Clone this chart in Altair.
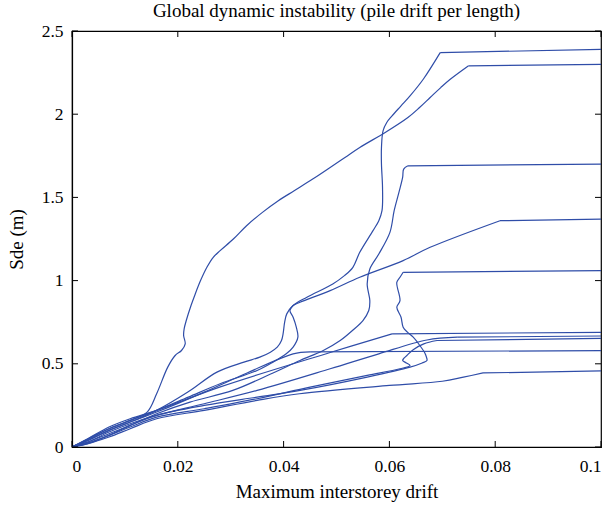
import altair as alt
import pandas as pd

# ---- data ----
drift_A = [0, 0.003, 0.007, 0.011, 0.0142, 0.016, 0.0181, 0.0195, 0.0207, 0.0214, 0.0211, 0.0212, 0.0216, 0.0225, 0.0233, 0.0243, 0.0255, 0.0267, 0.028, 0.0305, 0.033, 0.036, 0.039, 0.042, 0.0455, 0.0488, 0.0516, 0.0544, 0.0592, 0.0635, 0.0657, 0.0677, 0.0697, 0.0715, 0.0749, 0.1]
sde_A = [0, 0.05, 0.11, 0.16, 0.21, 0.32, 0.48, 0.55, 0.58, 0.62, 0.67, 0.71, 0.76, 0.85, 0.92, 1.00, 1.08, 1.14, 1.18, 1.25, 1.33, 1.41, 1.48, 1.54, 1.61, 1.68, 1.74, 1.80, 1.89, 1.98, 2.04, 2.10, 2.16, 2.21, 2.29, 2.30]

drift_B = [0, 0.003, 0.007, 0.011, 0.016, 0.0219, 0.0274, 0.0325, 0.0355, 0.0375, 0.0388, 0.0396, 0.0399, 0.0402, 0.0406, 0.0418, 0.0444, 0.0493, 0.0515, 0.0531, 0.0544, 0.0569, 0.058, 0.0586, 0.0587, 0.0585, 0.0585, 0.0588, 0.0595, 0.0605, 0.0622, 0.0639, 0.0664, 0.0696, 0.1]
sde_B = [0, 0.04, 0.10, 0.15, 0.22, 0.33, 0.45, 0.51, 0.54, 0.57, 0.60, 0.64, 0.68, 0.75, 0.80, 0.85, 0.90, 0.98, 1.03, 1.08, 1.17, 1.30, 1.36, 1.42, 1.56, 1.70, 1.80, 1.90, 1.95, 1.99, 2.05, 2.11, 2.21, 2.37, 2.39]

drift_C = [0, 0.003, 0.007, 0.011, 0.016, 0.0223, 0.0304, 0.038, 0.0431, 0.0475, 0.0507, 0.053, 0.055, 0.0561, 0.0563, 0.0558, 0.0563, 0.058, 0.0601, 0.0609, 0.0618, 0.0625, 0.0627, 0.0635, 0.1]
sde_C = [0, 0.03, 0.08, 0.13, 0.20, 0.27, 0.34, 0.445, 0.52, 0.58, 0.64, 0.70, 0.76, 0.82, 0.88, 0.98, 1.07, 1.16, 1.29, 1.42, 1.53, 1.62, 1.67, 1.69, 1.70]

drift_D = [0, 0.003, 0.007, 0.011, 0.016, 0.022, 0.028, 0.035, 0.038, 0.0405, 0.0418, 0.0427, 0.0424, 0.0418, 0.0412, 0.0418, 0.0431, 0.0488, 0.0544, 0.0626, 0.0677, 0.0809, 0.1]
sde_D = [0, 0.045, 0.11, 0.16, 0.22, 0.30, 0.38, 0.46, 0.51, 0.56, 0.60, 0.66, 0.72, 0.78, 0.82, 0.85, 0.87, 0.94, 1.02, 1.12, 1.20, 1.36, 1.37]

drift_E = [0, 0.003, 0.007, 0.011, 0.016, 0.025, 0.035, 0.0431, 0.0558, 0.0639, 0.0662, 0.0671, 0.067, 0.0667, 0.0654, 0.0645, 0.0634, 0.0626, 0.0622, 0.0614, 0.062, 0.0614, 0.062, 0.0626, 0.1]
sde_E = [0, 0.02, 0.07, 0.13, 0.19, 0.25, 0.30, 0.34, 0.42, 0.48, 0.505, 0.52, 0.54, 0.565, 0.625, 0.66, 0.69, 0.72, 0.78, 0.84, 0.88, 0.99, 1.02, 1.05, 1.06]

drift_F = [0, 0.003, 0.007, 0.011, 0.016, 0.0279, 0.0488, 0.0605, 0.1]
sde_F = [0, 0.05, 0.12, 0.17, 0.22, 0.36, 0.568, 0.68, 0.689]

drift_G = [0, 0.003, 0.007, 0.011, 0.016, 0.025, 0.035, 0.0488, 0.058, 0.0671, 0.0728, 0.1]
sde_G = [0, 0.03, 0.09, 0.14, 0.19, 0.26, 0.34, 0.47, 0.56, 0.643, 0.66, 0.667]

drift_H = [0, 0.003, 0.007, 0.011, 0.016, 0.025, 0.0331, 0.0418, 0.045, 0.1]
sde_H = [0, 0.04, 0.10, 0.15, 0.21, 0.33, 0.445, 0.56, 0.572, 0.579]

drift_J = [0, 0.003, 0.007, 0.011, 0.016, 0.025, 0.035, 0.045, 0.0558, 0.062, 0.0639, 0.0632, 0.0625, 0.0628, 0.0633, 0.0645, 0.0665, 0.069, 0.1]
sde_J = [0, 0.025, 0.07, 0.12, 0.18, 0.23, 0.29, 0.36, 0.43, 0.47, 0.49, 0.505, 0.52, 0.535, 0.55, 0.585, 0.62, 0.64, 0.653]

drift_I = [0, 0.003, 0.007, 0.011, 0.016, 0.025, 0.035, 0.043, 0.06, 0.07, 0.074, 0.0777, 0.1]
sde_I = [0, 0.02, 0.06, 0.11, 0.17, 0.22, 0.28, 0.32, 0.37, 0.395, 0.42, 0.445, 0.457]

x_ticks = [0, 0.02, 0.04, 0.06, 0.08, 0.1]
y_ticks = [0, 0.5, 1, 1.5, 2, 2.5]

curves = {
    "A": (drift_A, sde_A), "B": (drift_B, sde_B), "C": (drift_C, sde_C),
    "D": (drift_D, sde_D), "E": (drift_E, sde_E), "F": (drift_F, sde_F),
    "G": (drift_G, sde_G), "H": (drift_H, sde_H), "J": (drift_J, sde_J),
    "I": (drift_I, sde_I),
}
rise_rows, flat_rows = [], []
for name, (xs_, ys_) in curves.items():
    n = len(xs_)
    for i, (xv, yv) in enumerate(zip(xs_, ys_)):
        if i < n - 1:
            rise_rows.append({"curve": name, "i": i, "drift": xv, "sde": yv})
        if i >= n - 2:
            flat_rows.append({"curve": name, "i": i, "drift": xv, "sde": yv})
rise_df = pd.DataFrame(rise_rows)
flat_df = pd.DataFrame(flat_rows)

W, H = 529, 416
FONT = "Liberation Serif"
COLOR = "#2F4DA8"

xs = alt.Scale(domain=[0, 0.1], nice=False, zero=False)
ys = alt.Scale(domain=[0, 2.5], nice=False, zero=False)
common = dict(ticks=False, grid=False, labelFont=FONT, labelFontSize=17.5, labelColor="black",
              titleFont=FONT, titleFontSize=19, titleFontWeight="normal", titleColor="black",
              domainColor="black", domainWidth=1.2, format="~g")
x_axis = alt.Axis(values=x_ticks, labelPadding=10, titlePadding=8,
                  title="Maximum interstorey drift", **common)
y_axis = alt.Axis(values=y_ticks, labelPadding=9, titlePadding=15,
                  title="Sde (m)", **common)

rise = alt.Chart(rise_df).mark_line(color=COLOR, strokeWidth=1.2, interpolate="catmull-rom", clip=True).encode(
    x=alt.X("drift:Q", scale=xs, axis=x_axis),
    y=alt.Y("sde:Q", scale=ys, axis=y_axis),
    detail="curve:N",
    order="i:Q",
)
flat = alt.Chart(flat_df).mark_line(color=COLOR, strokeWidth=1.2, interpolate="linear", clip=True).encode(
    x=alt.X("drift:Q", scale=xs, axis=x_axis),
    y=alt.Y("sde:Q", scale=ys, axis=y_axis),
    detail="curve:N",
    order="i:Q",
)

xt = pd.DataFrame({"v": x_ticks})
yt = pd.DataFrame({"v": y_ticks})
TL = 6
bottom_ticks = alt.Chart(xt).mark_rule(color="black", strokeWidth=1).encode(
    x=alt.X("v:Q", scale=xs, axis=x_axis), y=alt.value(H - TL), y2=alt.value(H))
top_ticks = alt.Chart(xt).mark_rule(color="black", strokeWidth=1).encode(
    x=alt.X("v:Q", scale=xs, axis=x_axis), y=alt.value(0), y2=alt.value(TL))
left_ticks = alt.Chart(yt).mark_rule(color="black", strokeWidth=1).encode(
    y=alt.Y("v:Q", scale=ys, axis=y_axis), x=alt.value(0), x2=alt.value(TL))
right_ticks = alt.Chart(yt).mark_rule(color="black", strokeWidth=1).encode(
    y=alt.Y("v:Q", scale=ys, axis=y_axis), x=alt.value(W - TL), x2=alt.value(W))

chart = alt.layer(rise, flat, bottom_ticks, top_ticks, left_ticks, right_ticks).properties(
    width=W, height=H,
    title=alt.TitleParams("Global dynamic instability (pile drift per length)",
                          font=FONT, fontSize=19, fontWeight="normal", color="black",
                          anchor="middle", offset=1),
    autosize=alt.AutoSizeParams(type="none"),
    padding={"left": 72, "top": 31, "right": 12, "bottom": 64},
    background="white",
).configure_view(stroke="black", strokeWidth=1.2)

chart.save("out.html", embed_options={"renderer": "svg", "actions": False})
